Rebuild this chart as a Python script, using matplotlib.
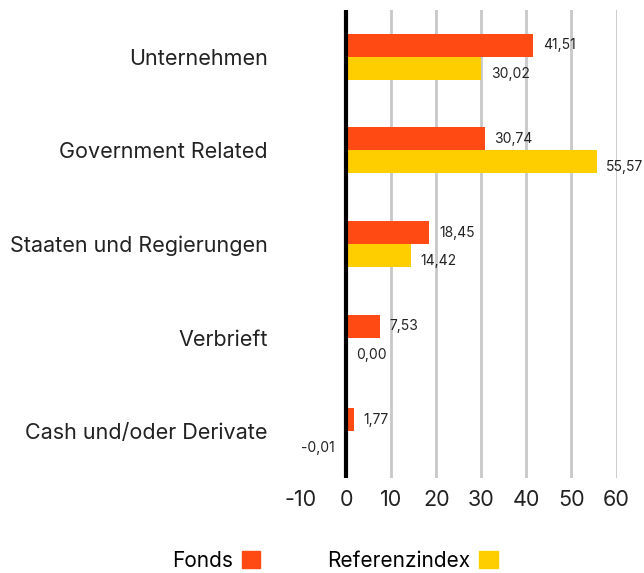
import matplotlib.pyplot as plt
from matplotlib.patches import Patch

plt.rcParams['font.family'] = ['Inter', 'DejaVu Sans']

# Daten
categories = ['Unternehmen', 'Government Related', 'Staaten und Regierungen',
              'Verbrieft', 'Cash und/oder Derivate']
fonds = [41.51, 30.74, 18.45, 7.53, 1.77]
referenz = [30.02, 55.57, 14.42, 0.00, -0.01]
series_names = ['Fonds', 'Referenzindex']
xticks = [-10, 0, 10, 20, 30, 40, 50, 60]

c_fonds = '#FF4A14'
c_ref = '#FFCE00'

fig = plt.figure(figsize=(6.44, 5.73), dpi=100)
ax = fig.add_axes([0.4674, 0.1658, 0.490, 0.8168])

pos = list(range(len(categories)))
h = 0.245
ax.barh([p - h / 2 for p in pos], fonds, height=h, color=c_fonds, zorder=3)
ax.barh([p + h / 2 for p in pos], referenz, height=h, color=c_ref, zorder=3)

# Werte beschriften
def fmt(v):
    return f'{v:.2f}'.replace('.', ',')

for p, v in zip(pos, fonds):
    ax.annotate(fmt(v), (max(v, 0), p - h / 2), xytext=(7, 0), textcoords='offset points',
                va='center', ha='left', fontsize=10, color='#222222')
for p, v in zip(pos, referenz):
    if v < 0:
        ax.annotate(fmt(v), (0, p + h / 2), xytext=(-8, -4), textcoords='offset points',
                    va='center', ha='right', fontsize=10, color='#222222')
    else:
        ax.annotate(fmt(v), (v, p + h / 2), xytext=(7, -4), textcoords='offset points',
                    va='center', ha='left', fontsize=10, color='#222222')

# Gitterlinien
for t in xticks:
    if t > 0:
        ax.axvline(t, color='#C8C8C8', lw=2, zorder=1)
ax.axvline(0, color='black', lw=3, zorder=4)

ax.set_xlim(-10, 60)
ax.set_ylim(4.5, -0.5)
ax.set_xticks(xticks)
ax.set_xticklabels([str(t) for t in xticks], fontsize=15.5, color='#222222')
ax.set_yticks(pos)
ax.set_yticklabels(categories, fontsize=15.5, color='#222222')
ax.tick_params(axis='x', length=0, pad=9)
ax.tick_params(axis='y', length=0, pad=24)
for s in ax.spines.values():
    s.set_visible(False)

handles = [Patch(color=c_fonds), Patch(color=c_ref)]
fig.legend(handles, series_names, loc='center', bbox_to_anchor=(0.52, 0.021), ncol=2,
           frameon=False, markerfirst=False, fontsize=15, handlelength=0.9, handleheight=0.9,
           handletextpad=0.43, columnspacing=3.2)

plt.savefig('out.png', dpi=100)
